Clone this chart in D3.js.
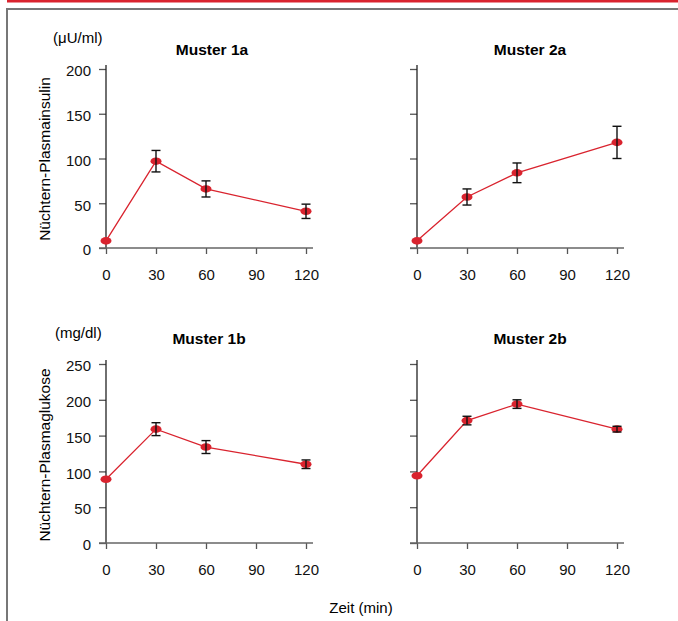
<!DOCTYPE html>
<html>
<head>
<meta charset="utf-8">
<script src="https://cdn.jsdelivr.net/npm/d3@7"></script>
<style>
  body { margin: 0; background: #fff; }
  svg { display: block; font-family: "Liberation Sans", Arial, sans-serif; }
</style>
</head>
<body>
<svg id="chart"></svg>
<script>
// Zeitpunkte (min)
const times = [0, 30, 60, 120]
const xTicks = [0, 30, 60, 90, 120]

// Insulin (µU/ml)
const insulin1a = [8, 97, 66, 41]
const insulin1aErr = [0, 12, 9, 8]
const insulin2a = [8, 57, 84, 118]
const insulin2aErr = [0, 9, 11, 18]
const insulinTicks = [0, 50, 100, 150, 200]

// Glukose (mg/dl)
const glucose1b = [89, 159, 134, 110]
const glucose1bErr = [0, 9, 9, 6]
const glucose2b = [94, 171, 194, 159]
const glucose2bErr = [0, 6, 6, 4]
const glucoseTicks = [0, 50, 100, 150, 200, 250]

const width = 678
const height = 621
const red = '#d9232e'

const svg = d3.select('#chart')
    .attr('width', width)
    .attr('height', height)

// Rahmen oben und links
svg.append('rect').attr('x', 7).attr('y', 0).attr('width', width - 7).attr('height', 2.5).attr('fill', red)
svg.append('line').attr('x1', 7).attr('x2', width).attr('y1', 9).attr('y2', 9)
    .attr('stroke', '#777').attr('stroke-width', 2)
svg.append('line').attr('x1', 7).attr('x2', 7).attr('y1', 8).attr('y2', height)
    .attr('stroke', '#777').attr('stroke-width', 2)

const plotW = 200
const plotH = 179

const x = d3.scaleLinear().domain([0, 120]).range([0, plotW])

const panels = [
    { title: 'Muster 1a', left: 106, top: 69, values: insulin1a, errs: insulin1aErr, max: 200, ticks: insulinTicks, labels: true, titleDx: 6 },
    { title: 'Muster 2a', left: 417, top: 69, values: insulin2a, errs: insulin2aErr, max: 200, ticks: insulinTicks, labels: false, titleDx: 13 },
    { title: 'Muster 1b', left: 106, top: 364, values: glucose1b, errs: glucose1bErr, max: 250, ticks: glucoseTicks, labels: true, titleDx: 3 },
    { title: 'Muster 2b', left: 417, top: 364, values: glucose2b, errs: glucose2bErr, max: 250, ticks: glucoseTicks, labels: false, titleDx: 13 }
]

panels.forEach((p) => {
    const y = d3.scaleLinear().domain([0, p.max]).range([plotH, 0])
    const g = svg.append('g').attr('transform', `translate(${p.left},${p.top})`)

    // Titel
    g.append('text')
        .attr('x', plotW / 2 + p.titleDx)
        .attr('y', p.max === 200 ? -14 : -20)
        .attr('text-anchor', 'middle')
        .attr('font-size', 15.5)
        .attr('font-weight', 'bold')
        .text(p.title)

    // y-Achse
    const yAxis = g.append('g')
        .call(d3.axisLeft(y).tickValues(p.ticks).tickSize(7).tickPadding(8)
            .tickFormat(p.labels ? d3.format('d') : () => ''))
    yAxis.select('.domain').remove()
    yAxis.selectAll('line').attr('stroke', '#555').attr('stroke-width', 1.3)
    yAxis.selectAll('text').attr('font-size', 15).attr('fill', '#111').attr('dy', '0.45em')
        .attr('font-family', '"Liberation Sans", Arial, sans-serif')
    g.append('line').attr('x1', 0).attr('x2', 0).attr('y1', -4).attr('y2', plotH)
        .attr('stroke', '#222').attr('stroke-width', 1.3)

    // x-Achse
    const xAxis = g.append('g')
        .attr('transform', `translate(0,${plotH})`)
        .call(d3.axisBottom(x).tickValues(xTicks).tickSize(6).tickPadding(15))
    xAxis.select('.domain').remove()
    xAxis.selectAll('line').attr('stroke', '#555').attr('stroke-width', 1.3)
    xAxis.selectAll('text').attr('font-size', 15).attr('fill', '#111')
        .attr('font-family', '"Liberation Sans", Arial, sans-serif')
    g.append('line').attr('x1', -7).attr('x2', plotW + 7).attr('y1', plotH).attr('y2', plotH)
        .attr('stroke', '#666').attr('stroke-width', 1.5)

    const pts = times.map((t, i) => ({ t, v: p.values[i], e: p.errs[i] }))

    // Verbindungslinie
    g.append('path')
        .datum(pts)
        .attr('fill', 'none')
        .attr('stroke', red)
        .attr('stroke-width', 1.3)
        .attr('d', d3.line().x((d) => x(d.t)).y((d) => y(d.v)))

    // Punkte
    g.append('g')
        .selectAll('ellipse')
        .data(pts)
        .join('ellipse')
        .attr('cx', (d) => x(d.t))
        .attr('cy', (d) => y(d.v))
        .attr('rx', 5.5)
        .attr('ry', 3.8)
        .attr('fill', red)

    // Fehlerbalken
    const eb = g.append('g')
        .attr('stroke', '#111')
        .attr('stroke-width', 1.4)
        .selectAll('g')
        .data(pts.filter((d) => d.e > 0))
        .join('g')
    eb.append('line')
        .attr('x1', (d) => x(d.t)).attr('x2', (d) => x(d.t))
        .attr('y1', (d) => y(d.v + d.e)).attr('y2', (d) => y(d.v - d.e))
    eb.append('line')
        .attr('x1', (d) => x(d.t) - 4.5).attr('x2', (d) => x(d.t) + 4.5)
        .attr('y1', (d) => y(d.v + d.e)).attr('y2', (d) => y(d.v + d.e))
    eb.append('line')
        .attr('x1', (d) => x(d.t) - 4.5).attr('x2', (d) => x(d.t) + 4.5)
        .attr('y1', (d) => y(d.v - d.e)).attr('y2', (d) => y(d.v - d.e))
})

// Einheiten
svg.append('text').attr('x', 53).attr('y', 43).attr('font-size', 15).text('(μU/ml)')
svg.append('text').attr('x', 55).attr('y', 338).attr('font-size', 15).text('(mg/dl)')

// Achsentitel
svg.append('text')
    .attr('transform', 'translate(50,159) rotate(-90)')
    .attr('text-anchor', 'middle')
    .attr('font-size', 15.5)
    .text('Nüchtern-Plasmainsulin')
svg.append('text')
    .attr('transform', 'translate(50,455) rotate(-90)')
    .attr('text-anchor', 'middle')
    .attr('font-size', 15.5)
    .text('Nüchtern-Plasmaglukose')
svg.append('text')
    .attr('x', 361)
    .attr('y', 613)
    .attr('text-anchor', 'middle')
    .attr('font-size', 15)
    .text('Zeit (min)')
</script>
</body>
</html>
